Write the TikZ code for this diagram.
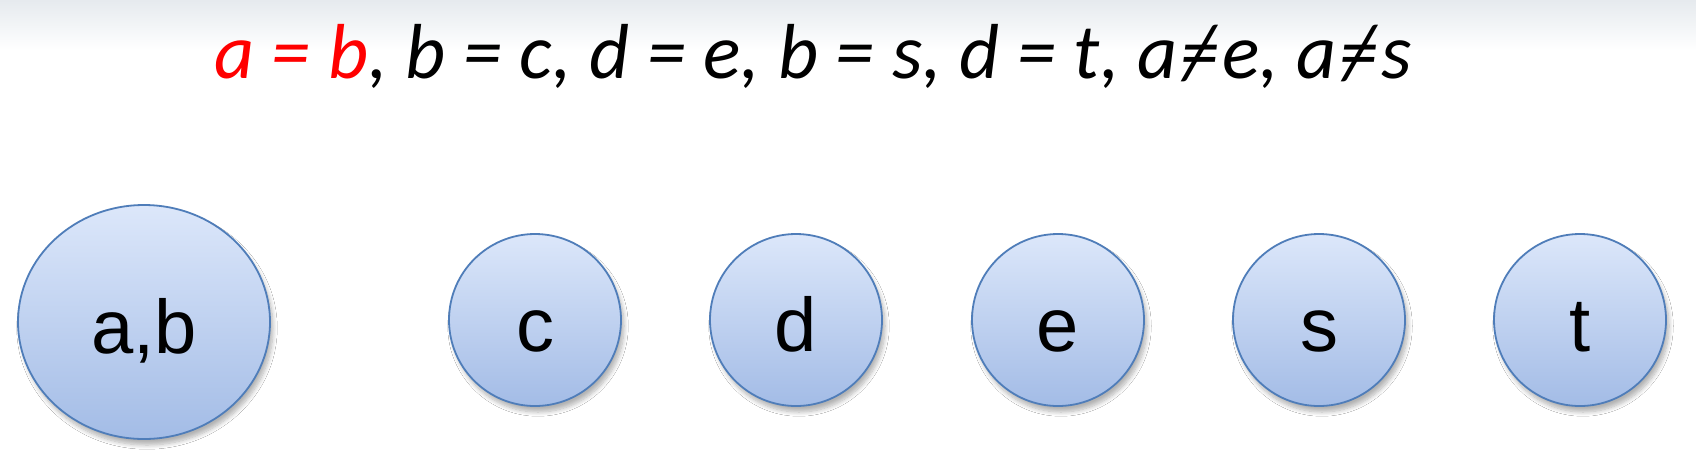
\documentclass[tikz,border=0pt]{standalone}
\usepackage{fontspec}
\setmainfont{Liberation Sans}
\newfontfamily\calib{Carlito}
\usetikzlibrary{shapes.geometric,shadows.blur}
\definecolor{topbl}{HTML}{DCE7FA}
\definecolor{botbl}{HTML}{A3BCE6}
\definecolor{edgebl}{HTML}{4F7DB9}
\definecolor{bgtop}{HTML}{E6EAEE}
\newcommand{\myneq}{\kern1.5pt\ooalign{=\cr\hidewidth/\hidewidth\cr}\kern1.5pt}
\tikzset{
  vnode/.style={circle, minimum size=86pt, inner sep=0pt, draw=edgebl, line width=0.9pt,
    top color=topbl, bottom color=botbl, font=\fontsize{38}{40}\selectfont,
    text height=31pt, text depth=0pt,
    blur shadow={shadow xshift=1.5pt, shadow yshift=-3pt, shadow blur steps=8, shadow opacity=30}},
  bignode/.style={vnode, ellipse, minimum width=126pt, minimum height=117pt},
  title/.style={font=\calib\itshape\fontsize{39}{42}\selectfont, anchor=base}
}
\begin{document}
\begin{tikzpicture}[x=0.5pt,y=-0.5pt]
\useasboundingbox (0,0) rectangle (1696,468);
\fill[white] (0,0) rectangle (1696,468);
\shade[top color=bgtop, bottom color=white] (0,0) rectangle (1696,50);
\node[title] (eqs) at (813,78) {\textcolor{red}{a = b}, b = c, d = e, b = s, d = t, a\myneq e, a\myneq s};
\node[bignode] (ab) at (144,322) {a,b};
\node[vnode] (c) at (535,320) {c};
\node[vnode] (d) at (796,320) {d};
\node[vnode] (e) at (1058,320) {e};
\node[vnode] (s) at (1319,320) {s};
\node[vnode] (t) at (1580,320) {t};
\end{tikzpicture}
\end{document}
